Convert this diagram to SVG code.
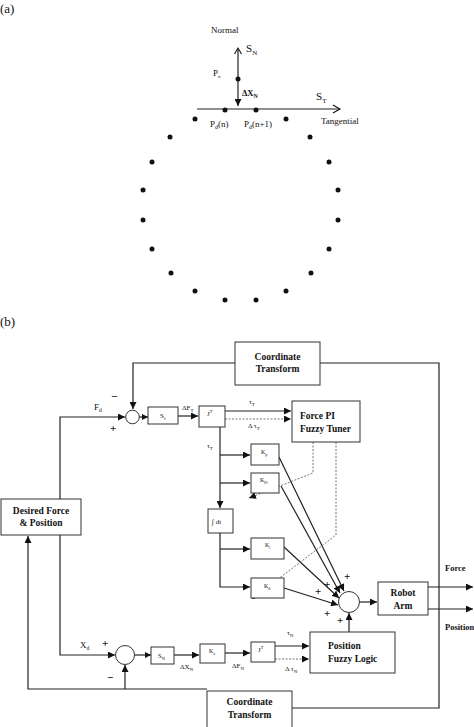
<svg xmlns="http://www.w3.org/2000/svg" width="474" height="727" viewBox="0 0 474 727">
<defs>
<marker id="ah" markerUnits="userSpaceOnUse" markerWidth="8" markerHeight="7" refX="7" refY="3.5" orient="auto"><path d="M0,0 L7,3.5 L0,7 Z" fill="#111"/></marker>
<marker id="ahs" markerUnits="userSpaceOnUse" markerWidth="7" markerHeight="6" refX="6" refY="3" orient="auto"><path d="M0,0 L6,3 L0,6 Z" fill="#111"/></marker>
<marker id="open" markerUnits="userSpaceOnUse" markerWidth="10" markerHeight="10" refX="8" refY="5" orient="auto"><path d="M1,1 L8,5 L1,9" fill="none" stroke="#111" stroke-width="1.1"/></marker>
</defs>
<style>
text{font-family:"Liberation Serif","Times New Roman",serif;fill:#111}
.bx{fill:#fff;stroke:#333;stroke-width:1}
.ln{fill:none;stroke:#222;stroke-width:1.2}
.ds{fill:none;stroke:#666;stroke-width:0.9;stroke-dasharray:2,1.5}
.bt{font-size:9.5px;font-weight:bold}
.sm{font-size:6px}
.lb{font-size:7px}
.pl{font-size:11px;font-weight:bold}
.dot{fill:#111}
</style>
<rect width="474" height="727" fill="#fff"/>

<!-- Part (a) -->
<g id="part-a">
<text x="0" y="13" font-size="13">(a)</text>
<text x="211" y="33" font-size="9">Normal</text>
<line x1="238" y1="49" x2="238" y2="106" class="ln" marker-end="url(#ah)"/>
<path d="M234.5,54 L238,48 L241.5,54" fill="none" stroke="#111" stroke-width="1.1"/>
<text x="246" y="52" font-size="11">S<tspan font-size="7" dy="3">N</tspan></text>
<text x="213" y="76" font-size="9">P<tspan font-size="5" dy="2">n</tspan></text>
<circle cx="238" cy="79" r="2.5" class="dot"/>
<text x="242" y="96" font-size="8.5" font-weight="bold">ΔX<tspan font-size="6" dy="2">N</tspan></text>
<line x1="197" y1="109" x2="340" y2="109" class="ln" marker-end="url(#open)"/>
<text x="316" y="100" font-size="11">S<tspan font-size="7" dy="3">T</tspan></text>
<circle cx="225" cy="110" r="2.5" class="dot"/>
<circle cx="256" cy="110" r="2.5" class="dot"/>
<text x="210" y="127" font-size="9">P<tspan font-size="6" dy="2">d</tspan><tspan dy="-2">(n)</tspan></text>
<text x="244" y="127" font-size="9">P<tspan font-size="6" dy="2">d</tspan><tspan dy="-2">(n+1)</tspan></text>
<text x="321" y="124" font-size="9">Tangential</text>
<circle cx="195" cy="119" r="2.5" class="dot"/>
<circle cx="286" cy="119" r="2.5" class="dot"/>
<circle cx="170" cy="137" r="2.5" class="dot"/>
<circle cx="310" cy="137" r="2.5" class="dot"/>
<circle cx="152" cy="162" r="2.5" class="dot"/>
<circle cx="329" cy="162" r="2.5" class="dot"/>
<circle cx="143" cy="190" r="2.5" class="dot"/>
<circle cx="338" cy="190" r="2.5" class="dot"/>
<circle cx="143" cy="220" r="2.5" class="dot"/>
<circle cx="338" cy="220" r="2.5" class="dot"/>
<circle cx="152" cy="249" r="2.5" class="dot"/>
<circle cx="329" cy="249" r="2.5" class="dot"/>
<circle cx="171" cy="273" r="2.5" class="dot"/>
<circle cx="311" cy="273" r="2.5" class="dot"/>
<circle cx="195" cy="291" r="2.5" class="dot"/>
<circle cx="286" cy="291" r="2.5" class="dot"/>
<circle cx="225" cy="300" r="2.5" class="dot"/>
<circle cx="256" cy="300" r="2.5" class="dot"/>
</g>

<text x="0" y="326" font-size="13">(b)</text>

<!-- Connectors -->
<g id="connectors">
<!-- top feedback -->
<polyline points="235,363 133,363 133,409" class="ln" marker-end="url(#ah)"/>
<polyline points="320,363 439,363 439,708 292,708" class="ln"/>
<!-- Fd -->
<polyline points="60,499 60,417 125,417" class="ln" marker-end="url(#ah)"/>
<line x1="139" y1="417" x2="148" y2="417" class="ln" marker-end="url(#ahs)"/>
<line x1="178" y1="416" x2="198" y2="416" class="ln" marker-end="url(#ah)"/>
<line x1="225" y1="411" x2="291" y2="411" class="ln" marker-end="url(#ah)"/>
<line x1="225" y1="419" x2="291" y2="419" class="ds" marker-end="url(#ah)"/>
<!-- tau_T distribution -->
<line x1="220" y1="427" x2="220" y2="508" class="ln" marker-end="url(#ah)"/>
<line x1="220" y1="455" x2="250" y2="455" class="ln" marker-end="url(#ah)"/>
<line x1="220" y1="483" x2="250" y2="483" class="ln" marker-end="url(#ah)"/>
<polyline points="220,533 220,587 250,587" class="ln" marker-end="url(#ah)"/>
<line x1="220" y1="549" x2="250" y2="549" class="ln" marker-end="url(#ah)"/>
<!-- gains to sum -->
<line x1="279" y1="457" x2="344" y2="591" class="ln" marker-end="url(#ah)"/>
<line x1="281" y1="486" x2="340" y2="593" class="ln" marker-end="url(#ah)"/>
<line x1="284" y1="547" x2="339" y2="598" class="ln" marker-end="url(#ah)"/>
<line x1="284" y1="588" x2="338" y2="605" class="ln" marker-end="url(#ah)"/>
<!-- dashed tuner outputs -->
<polyline points="313,442 313,473 249,498" class="ds" marker-end="url(#ah)"/>
<polyline points="336,442 336,535 252,599" class="ds" marker-end="url(#ah)"/>
<!-- sum to robot -->
<line x1="360" y1="602" x2="377" y2="602" class="ln" marker-end="url(#ah)"/>
<line x1="428" y1="587" x2="473" y2="587" class="ln" marker-end="url(#ah)"/>
<line x1="428" y1="609" x2="473" y2="609" class="ln" marker-end="url(#ah)"/>
<line x1="349" y1="632" x2="349" y2="613" class="ln" marker-end="url(#ah)"/>
<!-- position chain -->
<polyline points="60,535 60,655 115,655" class="ln" marker-end="url(#ah)"/>
<line x1="134" y1="655" x2="151" y2="655" class="ln" marker-end="url(#ahs)"/>
<line x1="174" y1="655" x2="199" y2="655" class="ln" marker-end="url(#ah)"/>
<line x1="225" y1="653" x2="250" y2="653" class="ln" marker-end="url(#ah)"/>
<line x1="275" y1="646" x2="309" y2="646" class="ln" marker-end="url(#ah)"/>
<line x1="275" y1="659" x2="309" y2="659" class="ds" marker-end="url(#ah)"/>
<!-- bottom feedback -->
<polyline points="207,689 28,689 28,536" class="ln" marker-end="url(#ah)"/>
<line x1="125" y1="689" x2="125" y2="665" class="ln" marker-end="url(#ah)"/>
</g>

<!-- labels on connectors -->
<g id="labels">
<text x="94" y="410" font-size="9">F<tspan font-size="5.5" dy="2">d</tspan></text>
<text x="111" y="400" class="pl">−</text>
<text x="110" y="432" class="pl">+</text>
<text x="182" y="410" class="lb">ΔF<tspan font-size="5" dy="2">T</tspan></text>
<text x="249" y="404" class="lb">τ<tspan font-size="5" dy="2">T</tspan></text>
<text x="248" y="428" class="lb">Δ τ<tspan font-size="5" dy="2">T</tspan></text>
<text x="207" y="448" class="lb">τ<tspan font-size="5" dy="2">T</tspan></text>
<text x="344" y="580" class="pl">+</text>
<text x="324" y="588" class="pl">+</text>
<text x="315" y="595" class="pl">+</text>
<text x="324" y="617" class="pl">+</text>
<text x="337" y="624" class="pl">+</text>
<text x="445" y="571" font-size="8.5" font-weight="bold">Force</text>
<text x="445" y="630" font-size="8.5" font-weight="bold">Position</text>
<text x="80" y="648" font-size="9">X<tspan font-size="5.5" dy="2">d</tspan></text>
<text x="102" y="647" class="pl">+</text>
<text x="107" y="681" class="pl">−</text>
<text x="180" y="669" class="lb">ΔX<tspan font-size="5" dy="2">N</tspan></text>
<text x="232" y="668" class="lb">ΔF<tspan font-size="5" dy="2">N</tspan></text>
<text x="287" y="635" class="lb">τ<tspan font-size="5" dy="2">N</tspan></text>
<text x="285" y="671" class="lb">Δ τ<tspan font-size="5" dy="2">N</tspan></text>
</g>

<!-- Nodes -->
<g id="coord-top"><rect x="235" y="342" width="85" height="43" class="bx"/><text x="277.5" y="360" class="bt" text-anchor="middle">Coordinate</text><text x="277.5" y="372" class="bt" text-anchor="middle">Transform</text></g>
<g id="sum-force"><circle cx="132.5" cy="417" r="6.8" class="bx"/></g>
<g id="sf"><rect x="148" y="407" width="30" height="17" class="bx"/><text x="160" y="418" font-size="7">S<tspan font-size="4.5" dy="1.5">f</tspan></text></g>
<g id="jt-force"><rect x="199" y="406" width="26" height="21" class="bx"/><text x="207" y="416" font-size="7">J<tspan font-size="4.5" dy="-3">T</tspan></text></g>
<g id="force-tuner"><rect x="292" y="401" width="68" height="41" class="bx"/><text x="300" y="419" class="bt">Force PI</text><text x="300" y="432" class="bt">Fuzzy Tuner</text></g>
<g id="kp"><rect x="251" y="444" width="28" height="21" class="bx"/><text x="261" y="454" class="sm">K<tspan font-size="4" dy="1.5">p</tspan></text></g>
<g id="kpi"><rect x="251" y="473" width="28" height="20" class="bx"/><text x="260" y="482" class="sm">K<tspan font-size="4" dy="1.5">Pi</tspan></text></g>
<g id="integ"><rect x="208" y="509" width="25" height="24" class="bx"/><text x="212" y="524" font-size="7">∫ dt</text></g>
<g id="ki"><rect x="251" y="538" width="33" height="21" class="bx"/><text x="265" y="547" class="sm">K<tspan font-size="4" dy="1.5">i</tspan></text></g>
<g id="kd"><rect x="251" y="578" width="33" height="20" class="bx"/><text x="264" y="588" class="sm">K<tspan font-size="4" dy="1.5">d</tspan></text></g>
<g id="sum-main"><circle cx="349" cy="602" r="10.5" class="bx"/></g>
<g id="robot"><rect x="378" y="582" width="50" height="33" class="bx"/><text x="403" y="596" class="bt" text-anchor="middle">Robot</text><text x="403" y="609" class="bt" text-anchor="middle">Arm</text></g>
<g id="desired"><rect x="1" y="499" width="80" height="36" class="bx"/><text x="41" y="514" class="bt" text-anchor="middle">Desired Force</text><text x="41" y="526" class="bt" text-anchor="middle">&amp; Position</text></g>
<g id="sum-pos"><circle cx="125" cy="655" r="9.5" class="bx"/></g>
<g id="sn"><rect x="151" y="647" width="23" height="17" class="bx"/><text x="158" y="658" font-size="6.5">S<tspan font-size="4.5" dy="1.5">N</tspan></text></g>
<g id="kx"><rect x="200" y="644" width="25" height="19" class="bx"/><text x="209" y="653" class="sm">K<tspan font-size="4" dy="1.5">x</tspan></text></g>
<g id="jt-pos"><rect x="251" y="642" width="24" height="20" class="bx"/><text x="258" y="652" font-size="7">J<tspan font-size="4.5" dy="-3">T</tspan></text></g>
<g id="pos-fuzzy"><rect x="310" y="632" width="85" height="41" class="bx"/><text x="328" y="649" class="bt">Position</text><text x="328" y="662" class="bt">Fuzzy Logic</text></g>
<g id="coord-bottom"><rect x="207" y="691" width="85" height="40" class="bx"/><text x="249.5" y="705" class="bt" text-anchor="middle">Coordinate</text><text x="249.5" y="718" class="bt" text-anchor="middle">Transform</text></g>
</svg>
